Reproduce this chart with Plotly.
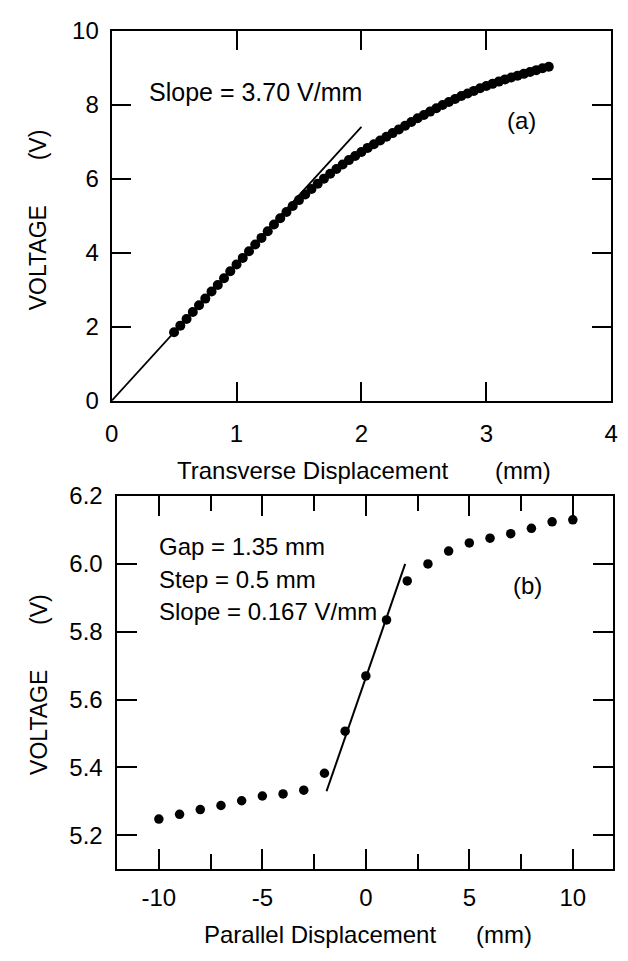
import plotly.graph_objects as go

# ---------------- data: panel (a) ----------------
trans_x = [0.50, 0.55, 0.60, 0.65, 0.70, 0.75, 0.80, 0.85, 0.90, 0.95,
           1.00, 1.05, 1.10, 1.15, 1.20, 1.25, 1.30, 1.35, 1.40, 1.45,
           1.50, 1.55, 1.60, 1.65, 1.70, 1.75, 1.80, 1.85, 1.90, 1.95,
           2.00, 2.05, 2.10, 2.15, 2.20, 2.25, 2.30, 2.35, 2.40, 2.45,
           2.50, 2.55, 2.60, 2.65, 2.70, 2.75, 2.80, 2.85, 2.90, 2.95,
           3.00, 3.05, 3.10, 3.15, 3.20, 3.25, 3.30, 3.35, 3.40, 3.45, 3.50]
trans_v = [1.85, 2.03, 2.21, 2.40, 2.58, 2.76, 2.95, 3.13, 3.31, 3.50,
           3.68, 3.86, 4.04, 4.22, 4.40, 4.58, 4.76, 4.93, 5.10, 5.26,
           5.42, 5.57, 5.72, 5.86, 6.00, 6.13, 6.26, 6.38, 6.50, 6.61,
           6.72, 6.83, 6.93, 7.03, 7.13, 7.23, 7.33, 7.43, 7.53, 7.63,
           7.72, 7.81, 7.90, 7.99, 8.07, 8.15, 8.23, 8.30, 8.37, 8.44,
           8.50, 8.56, 8.62, 8.68, 8.73, 8.78, 8.83, 8.88, 8.93, 8.98, 9.02]
fit_a_x = [0.0, 2.0]
fit_a_v = [0.0, 7.40]

# ---------------- data: panel (b) ----------------
par_x = [-10, -9, -8, -7, -6, -5, -4, -3, -2, -1, 0, 1, 2, 3, 4, 5, 6, 7, 8, 9, 10]
par_v = [5.248, 5.262, 5.276, 5.288, 5.302, 5.316, 5.322, 5.333, 5.383, 5.507,
         5.670, 5.835, 5.950, 6.000, 6.038, 6.062, 6.076, 6.089, 6.105, 6.124, 6.130]
fit_b_x = [-1.9, 1.9]
fit_b_v = [5.33, 6.00]

a_xticks = [0, 1, 2, 3, 4]
a_yticks = [0, 2, 4, 6, 8, 10]
b_xticks = [-10, -5, 0, 5, 10]
b_xticktext = ["-10", "-5", "0", "5", "10"]
b_yticks = [5.2, 5.4, 5.6, 5.8, 6.0, 6.2]

W, H = 628, 961
FONT = "Liberation Sans, Arial, Helvetica, sans-serif"


def px(x):
    return x / W


def py(y):
    return 1 - y / H


fig = go.Figure()
fig.add_trace(go.Scatter(x=fit_a_x, y=fit_a_v, mode="lines",
                         line=dict(color="black", width=1.8), xaxis="x", yaxis="y"))
fig.add_trace(go.Scatter(x=trans_x, y=trans_v, mode="markers",
                         marker=dict(color="black", size=10), xaxis="x", yaxis="y"))
fig.add_trace(go.Scatter(x=fit_b_x, y=fit_b_v, mode="lines",
                         line=dict(color="black", width=2), xaxis="x2", yaxis="y2"))
fig.add_trace(go.Scatter(x=par_x, y=par_v, mode="markers",
                         marker=dict(color="black", size=9.5), xaxis="x2", yaxis="y2"))

axis_common = dict(showline=True, linecolor="black", linewidth=2, mirror="ticks",
                   ticks="inside", tickcolor="black", tickwidth=2,
                   showgrid=False, zeroline=False,
                   tickfont=dict(family=FONT, size=24, color="black"))

fig.update_layout(
    width=W, height=H, autosize=False,
    margin=dict(l=0, r=0, t=0, b=0),
    paper_bgcolor="white", plot_bgcolor="white",
    showlegend=False,
    xaxis=dict(domain=[px(107), px(618)], range=[0, 4], tickvals=a_xticks,
               ticklen=19, anchor="y", ticklabelstandoff=10, **axis_common),
    yaxis=dict(domain=[py(398), py(17)], range=[0, 10], tickvals=a_yticks,
               ticklen=19, anchor="x", ticklabelstandoff=6, **axis_common),
    xaxis2=dict(domain=[px(113), px(620)], range=[-12, 11.95], tickvals=b_xticks,
                ticktext=b_xticktext,
                ticklen=20, anchor="y2", ticklabelstandoff=6,
                minor=dict(dtick=2.5, tick0=0, ticks="inside", ticklen=15,
                           tickwidth=2, tickcolor="black", showgrid=False),
                **axis_common),
    yaxis2=dict(domain=[py(880), py(496)], range=[5.1, 6.2], tickvals=b_yticks,
                tickformat=".1f", ticklen=20, anchor="x2", ticklabelstandoff=8,
                **axis_common),
)

NB = "\u00a0"
ann_font = dict(family=FONT, size=24, color="black")
annotations = [
    dict(text="Slope = 3.70 V/mm", x=px(143), y=py(80), xanchor="left", yanchor="middle",
         font=dict(family=FONT, size=25, color="black")),
    dict(text="(a)", x=px(526), y=py(110), xanchor="center", yanchor="middle", font=ann_font),
    dict(text="Gap = 1.35 mm", x=px(153), y=py(548), xanchor="left", yanchor="middle", font=ann_font),
    dict(text="Step = 0.5 mm", x=px(153), y=py(582), xanchor="left", yanchor="middle", font=ann_font),
    dict(text="Slope = 0.167 V/mm", x=px(153), y=py(615), xanchor="left", yanchor="middle", font=ann_font),
    dict(text="(b)", x=px(532), y=py(588), xanchor="center", yanchor="middle", font=ann_font),
    dict(text="Transverse Displacement" + NB * 7 + "(mm)", x=px(365), y=py(470),
         xanchor="center", yanchor="middle", font=ann_font),
    dict(text="Parallel Displacement" + NB * 6 + "(mm)", x=px(369), y=py(947),
         xanchor="center", yanchor="middle", font=ann_font),
    dict(text="VOLTAGE" + NB * 7 + "(V)", x=px(32), y=py(212), textangle=-90,
         xanchor="center", yanchor="middle", font=dict(family=FONT, size=23, color="black")),
    dict(text="VOLTAGE" + NB * 7 + "(V)", x=px(32), y=py(690), textangle=-90,
         xanchor="center", yanchor="middle", font=dict(family=FONT, size=23, color="black")),
]
for a in annotations:
    a.update(xref="paper", yref="paper", showarrow=False)
fig.update_layout(annotations=annotations)

fig.write_html("out.html")
